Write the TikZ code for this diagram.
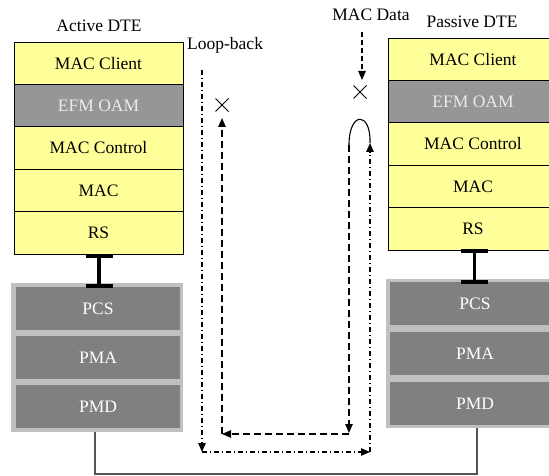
\documentclass[tikz,border=0pt]{standalone}
\usepackage{fontspec}
\setmainfont{Liberation Serif}
\newfontfamily\diagfont{Liberation Serif}
\usetikzlibrary{arrows.meta,shapes.misc}
\definecolor{layeryellow}{HTML}{FFFF99}
\definecolor{oamgray}{HTML}{969696}
\definecolor{phyouter}{HTML}{C0C0C0}
\definecolor{phyinner}{HTML}{808080}
\definecolor{wiregray}{HTML}{555555}
\begin{document}
\begin{tikzpicture}[x=1pt,y=-1pt,
  font=\diagfont\fontsize{17.5pt}{20pt}\selectfont,
  layer/.style={draw=black,line width=0.8pt,fill=layeryellow,anchor=north west,
    minimum height=42.4pt,inner sep=0pt,outer sep=0pt},
  oam/.style={layer,fill=oamgray,text=white!92!black},
  phyframe/.style={fill=phyouter,draw=none,anchor=north west,inner sep=0pt,outer sep=0pt},
  phybox/.style={fill=phyinner,draw=none,text=white,anchor=north west,
    minimum height=43pt,inner sep=0pt,outer sep=0pt},
  ibeam/.style={line width=3.5pt},
  ibar/.style={line width=4pt},
  tip/.style={-{Triangle[length=9pt,width=7.5pt]}},
  loopline/.style={tip,line width=1.1pt,dash pattern=on 5pt off 3pt on 1pt off 3pt},
  dataline/.style={tip,line width=1.2pt,dash pattern=on 7pt off 4pt},
  xmark/.style={cross out,draw,line width=1pt,minimum size=12pt,inner sep=0pt},
  lbl/.style={inner sep=0pt}
]
\useasboundingbox (0,0) rectangle (549,476);
\clip (0,0) rectangle (549,476);

% ---------- Active DTE ----------
\node[lbl] (activelbl) at (99,26) {Active DTE};
\node[layer,minimum width=169pt] (lclient) at (14,42) {MAC Client};
\node[oam,minimum width=169pt] (loam) at (14,84.4) {EFM OAM};
\node[layer,minimum width=169pt] (lctrl) at (14,126.8) {MAC Control};
\node[layer,minimum width=169pt] (lmac) at (14,169.2) {MAC};
\node[layer,minimum width=169pt] (lrs) at (14,211.6) {RS};

\node[phyframe,minimum width=172pt,minimum height=149pt] (lphy) at (11,283) {};
\node[phybox,minimum width=164pt] (lpcs) at (16,287) {PCS};
\node[phybox,minimum width=164pt] (lpma) at (16,336) {PMA};
\node[phybox,minimum width=164pt] (lpmd) at (16,385) {PMD};

\coordinate (lbtop) at (99,255.5);
\coordinate (lbbot) at (99,285.5);
\draw[ibeam] (lbtop) -- (lbbot);
\draw[ibar] ([xshift=-13.5pt]lbtop) -- ([xshift=13.5pt]lbtop);
\draw[ibar] ([xshift=-13.5pt]lbbot) -- ([xshift=13.5pt]lbbot);

% ---------- Passive DTE ----------
\node[lbl] (passivelbl) at (472,22) {Passive DTE};
\node[layer,minimum width=170pt] (rclient) at (388,38) {MAC Client};
\node[oam,minimum width=170pt] (roam) at (388,80.4) {EFM OAM};
\node[layer,minimum width=170pt] (rctrl) at (388,122.8) {MAC Control};
\node[layer,minimum width=170pt] (rmac) at (388,165.2) {MAC};
\node[layer,minimum width=170pt] (rrs) at (388,207.6) {RS};

\node[phyframe,minimum width=175pt,minimum height=149pt] (rphy) at (386,279) {};
\node[phybox,minimum width=170pt] (rpcs) at (390,282) {PCS};
\node[phybox,minimum width=170pt] (rpma) at (390,332) {PMA};
\node[phybox,minimum width=170pt] (rpmd) at (390,382) {PMD};

\coordinate (rbtop) at (474.5,251);
\coordinate (rbbot) at (474.5,281.5);
\draw[ibeam] (rbtop) -- (rbbot);
\draw[ibar] ([xshift=-13.5pt]rbtop) -- ([xshift=13.5pt]rbtop);
\draw[ibar] ([xshift=-13.5pt]rbbot) -- ([xshift=13.5pt]rbbot);

% ---------- medium ----------
\coordinate (ml) at (95,474);
\coordinate (mr) at (477,474);
\draw[wiregray,line width=1.2pt] (lphy.south -| ml) -- (ml) -- (mr) -- (rphy.south -| mr);

% ---------- labels ----------
\node[lbl,anchor=west] (looplbl) at (187,45) {Loop-back};
\node[lbl] (datalbl) at (371,15) {MAC Data};

% ---------- loop-back path (dash-dot) ----------
\coordinate (lb0) at (202,70);
\coordinate (lb1) at (202,452);
\coordinate (lb2) at (370,452);
\coordinate (lb3) at (370,143);
\draw[loopline] (lb0) -- (lb1);
\draw[loopline] (lb1) -- (lb2);
\draw[loopline] (lb2) -- (lb3);

% ---------- turn-around ----------
\coordinate (rt0) at (349,145);
\draw[line width=1.1pt] (lb3) .. controls (371,111) and (349,111) .. (rt0);

% ---------- returned data (dashed) ----------
\coordinate (rt1) at (349,433);
\coordinate (rt2) at (222,434);
\coordinate (rt3) at (222,118);
\draw[dataline] (rt0) -- (rt1);
\draw[dataline] (rt1 |- rt2) -- (rt2);
\draw[dataline] (rt2) -- (rt3);
\node[xmark] (xleft) at (222,105) {};

% ---------- MAC data in ----------
\coordinate (md0) at (362,32);
\coordinate (md1) at (362,80);
\draw[tip,line width=1.1pt,dash pattern=on 5pt off 3pt] (md0) -- (md1);
\node[xmark] (xright) at (360,92) {};
\end{tikzpicture}
\end{document}
